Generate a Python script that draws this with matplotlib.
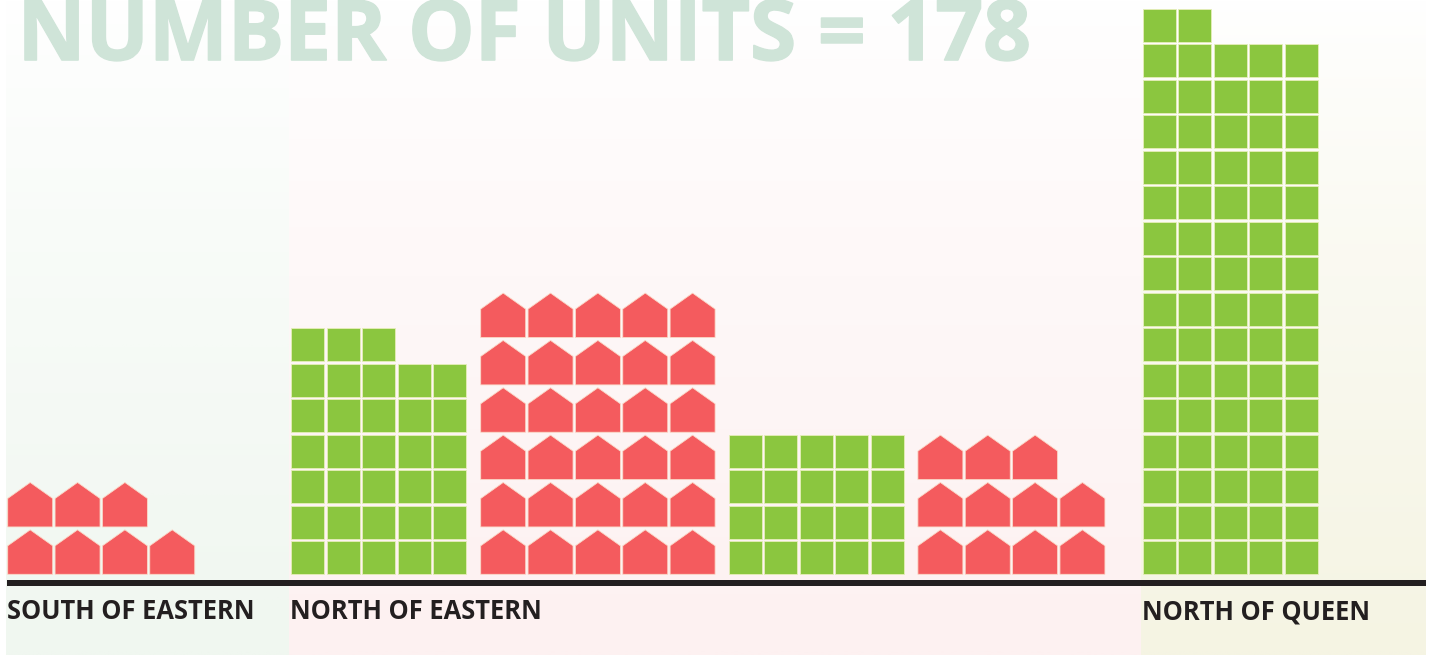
import matplotlib
matplotlib.use("Agg")
import matplotlib.pyplot as plt
import matplotlib.patheffects as pe
import numpy as np
from matplotlib.colors import LinearSegmentedColormap
from matplotlib.patches import Rectangle, Polygon

W, H = 1431, 655

# --- data ---
title = "NUMBER OF UNITS = 178"
group_kinds = ["house", "square", "house", "square", "house", "square"]
group_counts = [7, 33, 30, 20, 11, 77]
group_starts = [7.7, 291.4, 480.7, 728.9, 917.9, 1142.7]
group_columns = [4, 5, 5, 5, 4, 5]
region_names = ["SOUTH OF EASTERN", "NORTH OF EASTERN", "NORTH OF QUEEN"]
region_edges = [(6, 289), (289, 1141), (1141, 1426)]
region_colors = ["#f0f7f0", "#fdf1f1", "#f5f4e3"]

# --- styles ---
RED, GREEN, INK = "#f45b5e", "#8bc63f", "#231f20"
EDGE_RED, EDGE_GREEN = "#fbd9c8", "#e6eeb9"
BASE_Y = 574.3
SQ_SIZE, SQ_PITCH = 33.0, 35.5
HS_W, HS_H, HS_EAVE, HS_PITCH = 45.0, 44.5, 16.0, 47.35

fig = plt.figure(figsize=(W / 100, H / 100), dpi=100, facecolor="white")
ax = fig.add_axes([0, 0, 1, 1])
ax.set_xlim(0, W)
ax.set_ylim(H, 0)
ax.axis("off")

for (x0, x1), col in zip(region_edges, region_colors):
    cmap = LinearSegmentedColormap.from_list("fade", ["#ffffff", col])
    grad = np.linspace(0, 1, 256).reshape(-1, 1) ** 0.8
    ax.imshow(grad, cmap=cmap, vmin=0, vmax=1, extent=(x0, x1, H, 0),
              aspect="auto", zorder=0, interpolation="bilinear")
ax.set_xlim(0, W)
ax.set_ylim(H, 0)

ax.text(17.5, 60, title, family="Open Sans", fontweight="bold", fontsize=60.3,
        color="#cfe4d8", ha="left", va="baseline", zorder=1,
        path_effects=[pe.withStroke(linewidth=1.2, foreground="#cfe4d8")])


def draw_house(x, base):
    pts = [(x, base), (x + HS_W, base), (x + HS_W, base - HS_H + HS_EAVE),
           (x + HS_W / 2, base - HS_H), (x, base - HS_H + HS_EAVE)]
    ax.add_patch(Polygon(pts, closed=True, facecolor=RED, edgecolor=EDGE_RED,
                         linewidth=0.6, joinstyle="miter", zorder=2))


def draw_square(x, base):
    ax.add_patch(Rectangle((x, base - SQ_SIZE), SQ_SIZE, SQ_SIZE, facecolor=GREEN,
                           edgecolor=EDGE_GREEN, linewidth=0.6, zorder=2))


for kind, n, start, cols in zip(group_kinds, group_counts, group_starts, group_columns):
    pitch = HS_PITCH if kind == "house" else SQ_PITCH
    for i in range(n):
        row, col = divmod(i, cols)
        x = start + col * pitch
        base = BASE_Y - row * pitch
        (draw_house if kind == "house" else draw_square)(x, base)

ax.add_patch(Rectangle((7, 580), 1419, 6, facecolor=INK, edgecolor="none", zorder=3))

for name, (x0, _) in zip(region_names, region_edges):
    ax.text(x0 + 1, 619, name, family="Open Sans", fontweight="bold", fontsize=18.4,
            color=INK, ha="left", va="baseline", zorder=3)

fig.savefig("out.png", dpi=100, facecolor="white")
